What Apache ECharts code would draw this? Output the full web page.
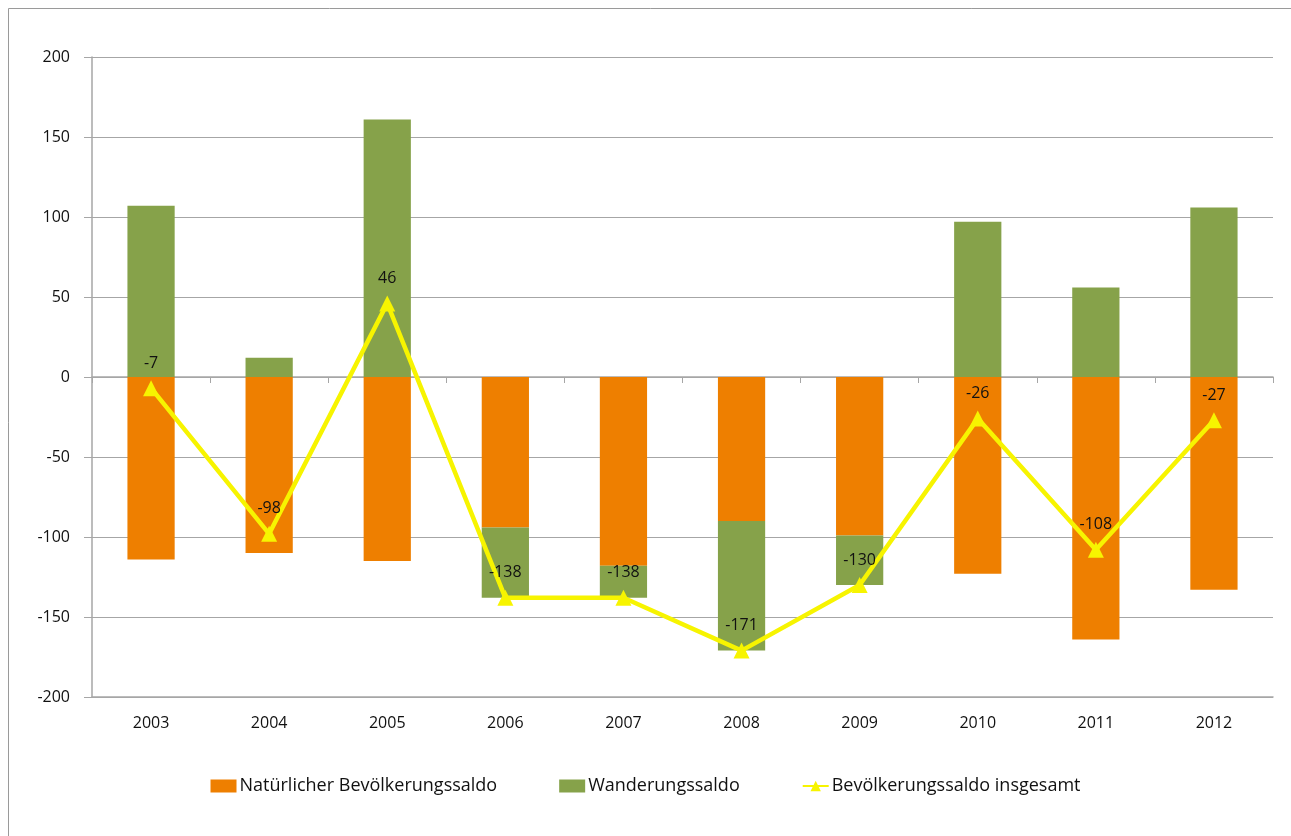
<!DOCTYPE html>
<html>
<head>
<meta charset="utf-8">
<script src="https://cdn.jsdelivr.net/npm/echarts@6/dist/echarts.min.js"></script>
<style>
html,body{margin:0;padding:0;background:#fff;}
#c{width:1291px;height:836px;}
</style>
</head>
<body>
<div id="c"></div>
<script>
const years = ['2003','2004','2005','2006','2007','2008','2009','2010','2011','2012'];
const natural = [-114,-110,-115,-94,-118,-90,-99,-123,-164,-133];
const migration = [107,12,161,-44,-20,-81,-31,97,56,106];
const total = [-7,-98,46,-138,-138,-171,-130,-26,-108,-27];
const yTicks = {min:-200,max:200,interval:50};

const chart = echarts.init(document.getElementById('c'));
const font = '"Open Sans", "DejaVu Sans", sans-serif';
chart.setOption({
  animation:false,
  textStyle:{fontFamily:font},
  graphic:[{type:'rect',shape:{x:8.5,y:8.5,width:1300,height:900},style:{fill:'none',stroke:'#9a9a9a',lineWidth:1},silent:true}],
  grid:{left:92,right:18,top:57,bottom:139},
  legend:{
    bottom:36,left:'center',itemGap:62,itemWidth:26,itemHeight:13,itemStyle:{borderWidth:0},
    textStyle:{fontFamily:font,fontSize:18,color:'#111',padding:[0,0,0,-2]},
    data:[{name:'Natürlicher Bevölkerungssaldo',icon:'rect'},{name:'Wanderungssaldo',icon:'rect'},{name:'Bevölkerungssaldo insgesamt'}]
  },
  xAxis:[
    {type:'category',data:years,
     axisLine:{onZero:true,lineStyle:{color:'#a6a6a6',width:1.5}},
     axisTick:{show:true,length:6,lineStyle:{color:'#a6a6a6'}},
     axisLabel:{show:false}},
    {type:'category',data:years,position:'bottom',
     axisLine:{show:true,onZero:false,lineStyle:{color:'#a6a6a6',width:1.5}},
     axisTick:{show:false},
     axisLabel:{fontFamily:font,fontSize:16,color:'#111',margin:18}}
  ],
  yAxis:{
    type:'value',min:yTicks.min,max:yTicks.max,interval:yTicks.interval,
    axisLine:{show:true,lineStyle:{color:'#a6a6a6',width:1.5}},
    axisTick:{show:true,length:8,lineStyle:{color:'#a6a6a6'}},
    splitLine:{lineStyle:{color:'#a6a6a6',width:1.2}},
    axisLabel:{fontFamily:font,fontSize:16,color:'#111',margin:22}
  },
  series:[
    {name:'Natürlicher Bevölkerungssaldo',type:'bar',stack:'s',data:natural,barWidth:'40%',itemStyle:{color:'#ee7f00'}},
    {name:'Wanderungssaldo',type:'bar',stack:'s',data:migration,barWidth:'40%',itemStyle:{color:'#86a24a'}},
    {name:'Bevölkerungssaldo insgesamt',type:'line',data:total,
      lineStyle:{color:'#f7f400',width:4.5},itemStyle:{color:'#f7f400'},
      symbol:'triangle',symbolSize:16,
      label:{show:true,position:'top',distance:9,fontFamily:font,fontSize:16,color:'#111'}
    }
  ]
});
</script>
</body>
</html>
